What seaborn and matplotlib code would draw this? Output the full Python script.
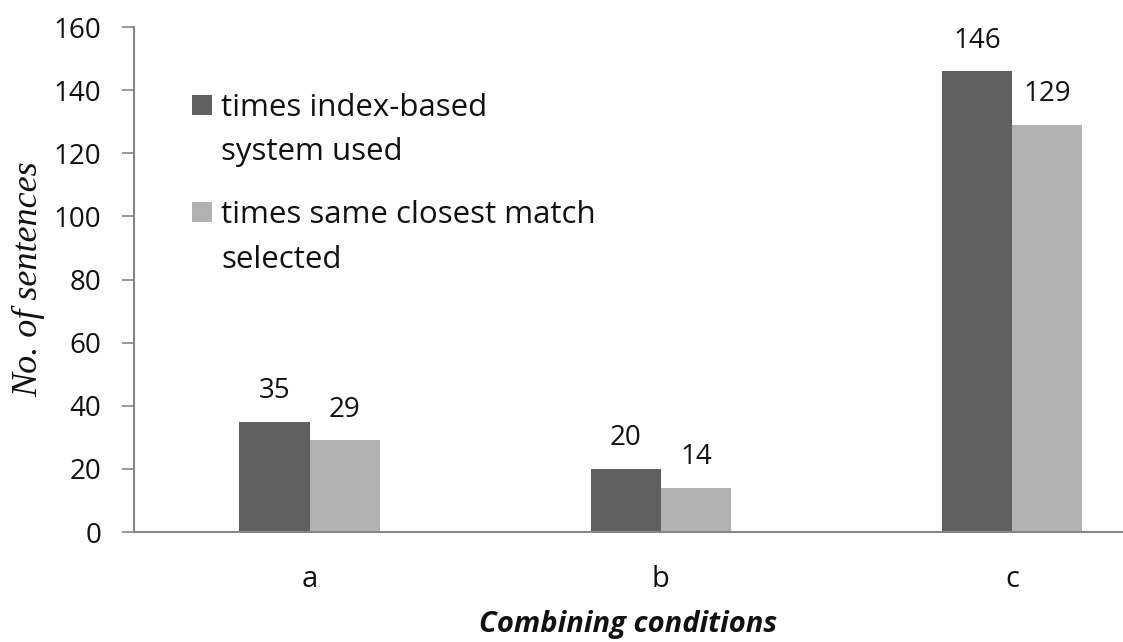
import pandas as pd
import matplotlib.pyplot as plt
import seaborn as sns
from matplotlib.patches import Rectangle
from matplotlib.legend_handler import HandlerPatch

categories = ["a", "b", "c"]
index_used = [35, 20, 146]
same_match = [29, 14, 129]
series_names = ["times index-based\nsystem used", "times same closest match\nselected"]

df = pd.DataFrame({
    "condition": categories * 2,
    "count": index_used + same_match,
    "series": [series_names[0]] * 3 + [series_names[1]] * 3,
})

sns.set_style("white")
plt.rcParams['font.family'] = ['Open Sans', 'DejaVu Sans']

fig = plt.figure(figsize=(11.23, 6.42), dpi=100)
ax = fig.add_axes([0.1193, 0.1713, 0.8807, 0.7866])

sns.barplot(data=df, x="condition", y="count", hue="series",
            palette=["#606060", "#b2b2b2"], width=0.4, gap=0,
            saturation=1, linewidth=0, ax=ax)

for cont in ax.containers:
    ax.bar_label(cont, padding=12, fontsize=20, color="#111111")

ax.set_ylim(0, 160)
ax.set_yticks(range(0, 161, 20))
ax.set_xlim(-0.5, 2.316)
ax.tick_params(axis="y", direction="out", length=8.6, width=1.2, color="#868686",
               pad=15, labelsize=20, left=True, labelcolor="#111111")
ax.tick_params(axis="x", length=0, pad=24, labelsize=21, labelcolor="#111111")

for side in ["top", "right"]:
    ax.spines[side].set_visible(False)
for side in ["left", "bottom"]:
    ax.spines[side].set_color("#868686")
    ax.spines[side].set_linewidth(1.5)

ax.set_ylabel("No. of sentences", family="Liberation Serif", style="italic",
              fontsize=26, color="#111111")
ax.yaxis.set_label_coords(-0.09, 0.5)
ax.set_xlabel("Combining conditions", fontweight="bold", style="italic",
              fontsize=21, labelpad=11, color="#111111")


def top_square(legend, orig_handle, xdescent, ydescent, width, height, fontsize):
    s = fontsize * 0.64
    return Rectangle((xdescent + width - s, ydescent + height * 0.5 + fontsize * 0.83 - s / 2), s, s)


handles, labels = ax.get_legend_handles_labels()
leg = ax.legend(handles, labels, loc="upper left", bbox_to_anchor=(0.0586, 0.870),
                frameon=False, fontsize=22.5, handlelength=0.64, handletextpad=0.29,
                labelspacing=1.05, borderpad=0, borderaxespad=0,
                handler_map={h: HandlerPatch(patch_func=top_square) for h in handles})
for t in leg.get_texts():
    t.set_linespacing(1.64)
    t.set_color("#111111")

fig.savefig("out.png", dpi=100)
